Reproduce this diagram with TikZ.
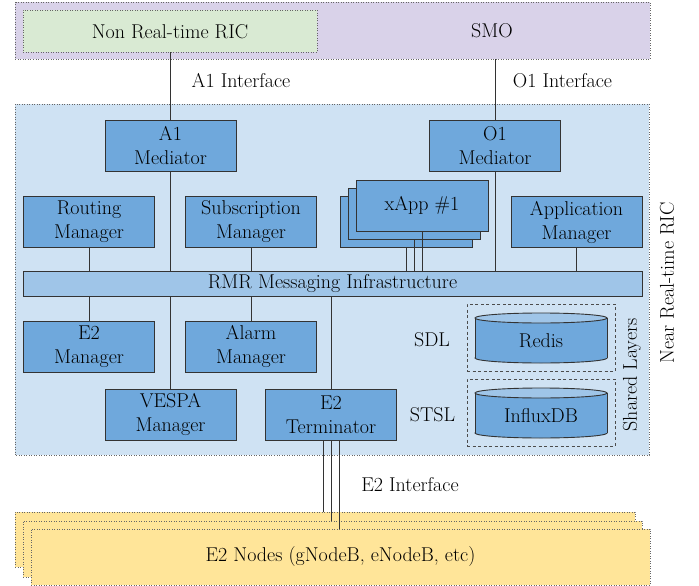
\documentclass[tikz,border=0pt]{standalone}
\usetikzlibrary{calc}
\definecolor{smocol}{HTML}{D9D2E9}
\definecolor{nrtcol}{HTML}{D9EAD3}
\definecolor{ricbg}{HTML}{CFE2F3}
\definecolor{boxblue}{HTML}{6FA8DC}
\definecolor{lightblue}{HTML}{9FC5E8}
\definecolor{e2yellow}{HTML}{FFE599}
\definecolor{edgecol}{HTML}{333333}
\tikzset{
  every node/.style={font=\fontsize{20}{24}\selectfont, text=black},
  dotbox/.style={draw=black!60, dash pattern=on 0.9pt off 1.6pt, line width=0.8pt},
  compbox/.style={draw=edgecol, line width=0.9pt, fill=boxblue, minimum width=131pt,
    minimum height=51pt, inner sep=0pt, align=center},
  dashbox/.style={draw=black!70, dash pattern=on 3pt off 2.5pt, line width=0.8pt},
  link/.style={draw=edgecol, line width=0.9pt},
  lbl/.style={anchor=base, inner sep=0pt},
}
\begin{document}
\begin{tikzpicture}[x=1pt,y=-1pt]
\useasboundingbox (0,0) rectangle (699,586);
% SMO
\path[fill=smocol, dotbox] (15,2) rectangle (650,59);
\node[lbl] (smo) at (492,37.5) {SMO};
\coordinate (smoS) at (495,59);
\node[dotbox, fill=nrtcol, minimum width=294pt, minimum height=42pt, inner sep=0pt] (nrt) at (170,31) {};
\node[lbl] (nrtl) at (170,39) {Non Real-time RIC};
% Near-RT RIC background
\path[fill=ricbg, dotbox] (15,104) rectangle (649,455);
\node[rotate=90, inner sep=0pt] (nearl) at (667,283) {Near Real-time RIC};
% components
\node[compbox] (a1) at (170.5,145.5) {A1\\Mediator};
\node[compbox] (o1) at (495,145.5) {O1\\Mediator};
\node[compbox] (rout) at (89,221.5) {Routing\\Manager};
\node[compbox] (subs) at (251,221.5) {Subscription\\Manager};
\node[compbox, minimum width=132pt] (xa3) at (406,221.5) {};
\node[compbox, minimum width=132pt] (xa2) at (414,213.5) {};
\node[compbox, minimum width=132pt] (xa1) at (422,205.5) {xApp \#1};
\node[compbox] (appm) at (576.5,222) {Application\\Manager};
\node[draw=edgecol, line width=0.9pt, fill=lightblue, minimum width=619pt, minimum height=25pt, inner sep=0pt] (rmr) at (332.5,283.5) {RMR Messaging Infrastructure};
\node[compbox] (e2m) at (89,346.5) {E2\\Manager};
\node[compbox] (alarm) at (251,346.5) {Alarm\\Manager};
\node[compbox] (vespa) at (170.5,414.5) {VESPA\\Manager};
\node[compbox] (e2t) at (331,414.5) {E2\\Terminator};
% shared layers
\node[dashbox, minimum width=148pt, minimum height=67pt, inner sep=0pt] (sdlbox) at (541,337.5) {};
\node[dashbox, minimum width=148pt, minimum height=67pt, inner sep=0pt] (stslbox) at (541,412.5) {};
\node[inner sep=0pt] (sdl) at (432,340) {SDL};
\node[inner sep=0pt] (stsl) at (432.5,415) {STSL};
\node[rotate=90, inner sep=0pt] (shared) at (632,375) {Shared Layers};
% cylinders
\foreach \yt/\yb/\nm/\txt in {313/363/redis/Redis, 388/438/influx/InfluxDB}{
  \fill[boxblue] (541,\yb-5) ellipse [x radius=66pt, y radius=5pt];
  \draw[edgecol, line width=0.9pt] (541,\yb-5) ellipse [x radius=66pt, y radius=5pt];
  \fill[boxblue] (475,\yt+5) rectangle (607,\yb-5);
  \draw[edgecol, line width=0.9pt] (475,\yt+5) -- (475,\yb-5) (607,\yt+5) -- (607,\yb-5);
  \draw[edgecol, line width=0.9pt, fill=lightblue] (541,\yt+5) ellipse [x radius=66pt, y radius=5pt];
  \node[inner sep=0pt] (\nm) at (541,{(\yt+\yb)/2+3}) {\txt};
}
% interface labels
\node[lbl] (a1if) at (241,88) {A1 Interface};
\node[lbl] (o1if) at (562.5,88) {O1 Interface};
\node[lbl] (e2if) at (410,491) {E2 Interface};
% E2 nodes stack
\node[dotbox, fill=e2yellow, minimum width=620pt, minimum height=55pt, inner sep=0pt] (e2n3) at (325,539.5) {};
\node[dotbox, fill=e2yellow, minimum width=619pt, minimum height=56pt, inner sep=0pt] (e2n2) at (332.5,549) {};
\node[dotbox, fill=e2yellow, minimum width=619pt, minimum height=56pt, inner sep=0pt] (e2n1) at (340.5,557) {E2 Nodes (gNodeB, eNodeB, etc)};
% connectors
\draw[link] (a1.north) -- (a1.north |- nrt.south);
\draw[link] (o1.north) -- (o1.north |- smoS);
\draw[link] (a1.south) -- (a1.south |- rmr.north);
\draw[link] (o1.south) -- (o1.south |- rmr.north);
\draw[link] (rout.south) -- (rout.south |- rmr.north);
\draw[link] (subs.south) -- (subs.south |- rmr.north);
\draw[link] (appm.south) -- (appm.south |- rmr.north);
\draw[link] (xa3.south) -- (xa3.south |- rmr.north);
\draw[link] (xa2.south) -- (xa2.south |- rmr.north);
\draw[link] (xa1.south) -- (xa1.south |- rmr.north);
\draw[link] (e2m.north) -- (e2m.north |- rmr.south);
\draw[link] (alarm.north) -- (alarm.north |- rmr.south);
\draw[link] (vespa.north) -- (vespa.north |- rmr.south);
\draw[link] (e2t.north) -- (e2t.north |- rmr.south);
\draw[link] ([xshift=-8pt]e2t.south) -- ([xshift=-8pt]e2t.south |- e2n3.north);
\draw[link] (e2t.south) -- (e2t.south |- e2n2.north);
\draw[link] ([xshift=8pt]e2t.south) -- ([xshift=8pt]e2t.south |- e2n1.north);
\end{tikzpicture}
\end{document}
